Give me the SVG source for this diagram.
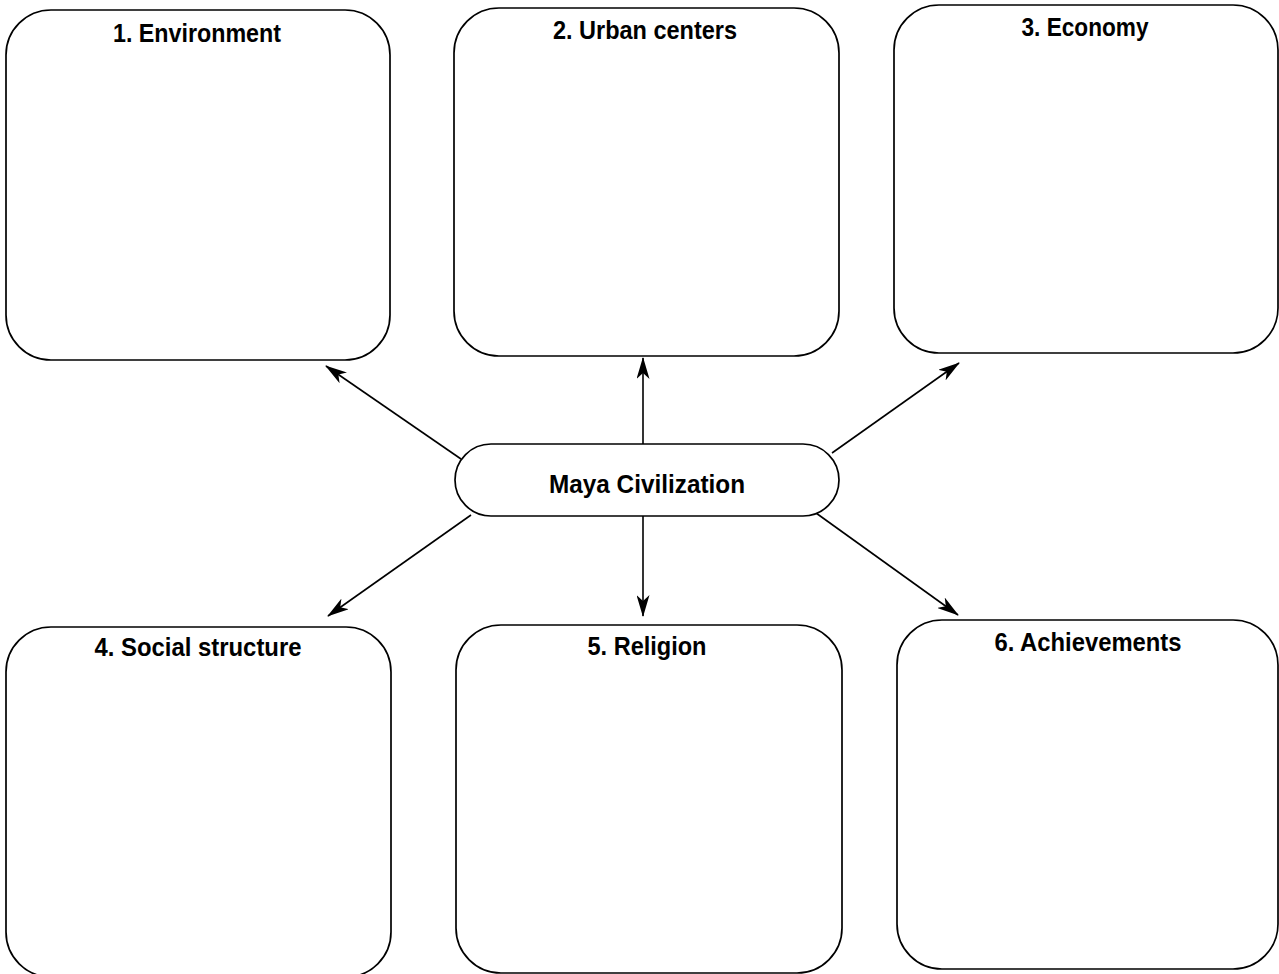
<svg xmlns="http://www.w3.org/2000/svg" width="1279" height="974" viewBox="0 0 1279 974">
<defs>
<style>
.box{fill:#fff;stroke:#000;stroke-width:1.7}
.lbl{font-family:"Liberation Sans Narrow","Liberation Sans",Arial,sans-serif;font-weight:bold;font-size:25px;fill:#000;text-anchor:middle}
.conn{stroke:#000;stroke-width:1.6;fill:none;marker-end:url(#arr)}
</style>
<marker id="arr" viewBox="0 0 22 13" refX="21" refY="6.5" markerWidth="22" markerHeight="13" markerUnits="userSpaceOnUse" orient="auto">
<path d="M0,0 L22,6.5 L0,13 L6,6.5 Z" fill="#000"/>
</marker>
</defs>
<rect width="1279" height="974" fill="#fff"/>
<g id="connectors">
<line class="conn" x1="461" y1="459" x2="326" y2="366"/>
<line class="conn" x1="643" y1="444" x2="643" y2="358"/>
<line class="conn" x1="832" y1="453" x2="959" y2="363"/>
<line class="conn" x1="471" y1="515" x2="328" y2="616"/>
<line class="conn" x1="643" y1="516" x2="643" y2="616"/>
<line class="conn" x1="816" y1="513" x2="958" y2="615"/>
</g>
<g id="n1">
<rect class="box" x="6" y="10" width="384" height="350" rx="45" ry="45"/>
<text class="lbl" x="197" y="42" textLength="168" lengthAdjust="spacingAndGlyphs">1. Environment</text>
</g>
<g id="n2">
<rect class="box" x="454" y="8" width="385" height="348" rx="45" ry="45"/>
<text class="lbl" x="645" y="39" textLength="184" lengthAdjust="spacingAndGlyphs">2. Urban centers</text>
</g>
<g id="n3">
<rect class="box" x="894" y="5" width="384" height="348" rx="45" ry="45"/>
<text class="lbl" x="1085" y="36" textLength="127" lengthAdjust="spacingAndGlyphs">3. Economy</text>
</g>
<g id="center">
<rect class="box" x="455" y="444" width="384" height="72" rx="36" ry="36"/>
<text class="lbl" x="647" y="493" textLength="196" lengthAdjust="spacingAndGlyphs">Maya Civilization</text>
</g>
<g id="n4">
<rect class="box" x="6" y="627" width="385" height="350" rx="45" ry="45"/>
<text class="lbl" x="198" y="656" textLength="207" lengthAdjust="spacingAndGlyphs">4. Social structure</text>
</g>
<g id="n5">
<rect class="box" x="456" y="625" width="386" height="348" rx="45" ry="45"/>
<text class="lbl" x="647" y="655" textLength="119" lengthAdjust="spacingAndGlyphs">5. Religion</text>
</g>
<g id="n6">
<rect class="box" x="897" y="620" width="381" height="349" rx="45" ry="45"/>
<text class="lbl" x="1088" y="651" textLength="187" lengthAdjust="spacingAndGlyphs">6. Achievements</text>
</g>
</svg>
